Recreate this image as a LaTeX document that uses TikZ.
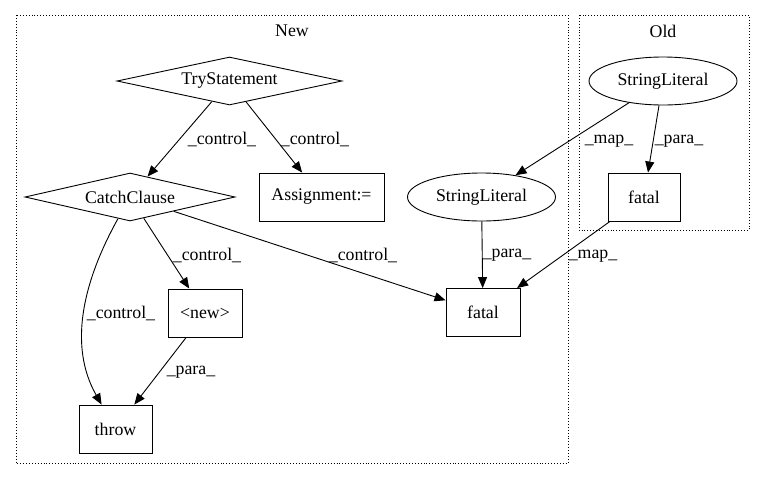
\documentclass[tikz,border=0pt]{standalone}
\usepackage{fontspec}
\setmainfont{Liberation Serif}
\usetikzlibrary{shapes.geometric,arrows.meta}
\begin{document}
\begin{tikzpicture}[x=1pt,y=-1pt,
  every node/.style={font=\fontsize{17.8}{20}\selectfont},
  box/.style={draw,line width=0.9pt,rectangle,minimum height=48pt,inner sep=0pt},
  dia/.style={draw,line width=0.9pt,diamond,aspect=4.4,inner sep=0pt},
  ell/.style={draw,line width=0.9pt,ellipse,minimum width=148pt,minimum height=48pt,inner sep=0pt},
  edge/.style={draw,line width=0.9pt,-{Triangle[length=11pt,width=9pt]}},
  lab/.style={inner sep=1pt},
  cluster/.style={draw,dotted,line width=0.9pt}]
\useasboundingbox (0,0) rectangle (765,480);
% clusters
\draw[cluster] (16,15) rectangle (568,463);
\draw[cluster] (579,15) rectangle (749,230);
\node (newlab) at (292,31) {New};
\node (oldlab) at (663,31) {Old};
% nodes
\node[dia,minimum width=225pt,minimum height=48pt] (try) at (229.5,81) {TryStatement};
\node[dia,minimum width=210pt,minimum height=48pt] (catch) at (130,197) {CatchClause};
\node[box,minimum width=125pt] (assign) at (321.5,197) {Assignment:=};
\node[ell] (slnew) at (481.5,197) {StringLiteral};
\node[ell] (slold) at (663,81) {StringLiteral};
\node[box,minimum width=72pt] (fatalold) at (644,197) {fatal};
\node[box,minimum width=74pt] (fatalnew) at (483,312.5) {fatal};
\node[box,minimum width=74pt] (newn) at (205,313) {<new>};
\node[box,minimum width=73pt] (throw) at (115.5,429) {throw};
% edges
\draw[edge] (try) -- (catch);
\draw[edge] (try) -- (assign);
\draw[edge] (catch) .. controls (95,260) and (62,335) .. (throw);
\draw[edge] (catch) -- (newn);
\draw[edge] (catch) -- (fatalnew);
\draw[edge] (slnew) -- (fatalnew);
\draw[edge] (slold) -- (slnew);
\draw[edge] (slold) -- (fatalold);
\draw[edge] (fatalold) -- (fatalnew);
\draw[edge] (newn) -- (throw);
% labels
\node[lab] (l1) at (222,139) {\_control\_};
\node[lab] (l2) at (315,139) {\_control\_};
\node[lab] (l3) at (609,141) {\_map\_};
\node[lab] (l4) at (679,141) {\_para\_};
\node[lab] (l5) at (207,255) {\_control\_};
\node[lab] (l6) at (363,255) {\_control\_};
\node[lab] (l7) at (507,255) {\_para\_};
\node[lab] (l8) at (593,256) {\_map\_};
\node[lab] (l9) at (121,313) {\_control\_};
\node[lab] (l10) at (191,372) {\_para\_};
\end{tikzpicture}
\end{document}
